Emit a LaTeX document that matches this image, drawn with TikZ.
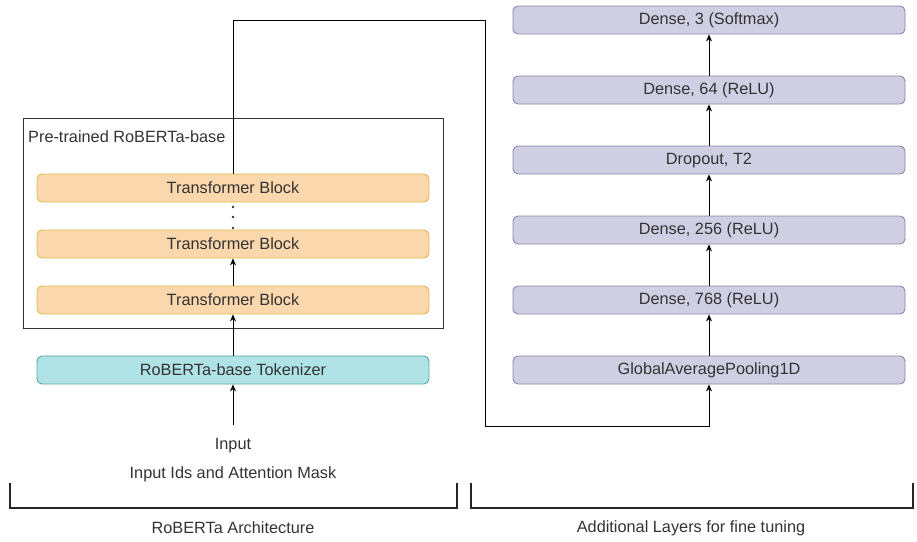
\documentclass[tikz,border=0pt]{standalone}
\usepackage{fontspec}
\setmainfont{Liberation Sans}
\usetikzlibrary{arrows.meta}
\definecolor{orfill}{HTML}{FAD7AC}
\definecolor{ordraw}{HTML}{D79B00}
\definecolor{cyfill}{HTML}{B0E3E6}
\definecolor{cydraw}{HTML}{0E8088}
\definecolor{pufill}{HTML}{D0CEE2}
\definecolor{pudraw}{HTML}{56517E}
\definecolor{txt}{HTML}{333333}
\begin{document}
\begin{tikzpicture}[x=1pt,y=-1pt,
  layer/.style={rounded corners=5pt, line width=0.9pt, minimum width=392pt, minimum height=28pt, inner sep=0pt, text=txt, font=\fontsize{16.3}{18}\selectfont},
  tb/.style={layer, fill=orfill, draw=ordraw!70},
  tok/.style={layer, fill=cyfill, draw=cydraw!70},
  dl/.style={layer, fill=pufill, draw=pudraw!70},
  conn/.style={line width=0.8pt, -{Stealth[length=7pt,width=6pt]}},
  lbl/.style={text=txt, font=\fontsize{16.3}{18}\selectfont, inner sep=0pt},
  brk/.style={line width=2.4pt, draw=black!85}]
\useasboundingbox (0,0) rectangle (917,541);
% frame
\node[draw=black!80, line width=0.8pt, minimum width=420pt, minimum height=210pt, inner sep=0pt] (frame) at (233,223) {};
\node[lbl, anchor=west] (ptlabel) at (28,137) {Pre-trained RoBERTa-base};
% left column
\node[tb] (b1) at (233,188) {Transformer Block};
\node[tb] (b2) at (233,244) {Transformer Block};
\node[tb] (b3) at (233,300) {Transformer Block};
\node[tok] (tok) at (233,370) {RoBERTa-base Tokenizer};
\node[lbl] (inp) at (233,446) {Input};
\node[lbl] (ids) at (233,474) {Input Ids and Attention Mask};
\coordinate (inpt) at (233,425);
% dots
\foreach \yy in {207,217,228} \fill[black!80] (233,\yy) circle (1.3pt);
% right column
\node[dl] (d3) at (709,20) {Dense, 3 (Softmax)};
\node[dl] (d64) at (709,90) {Dense, 64 (ReLU)};
\node[dl] (dr) at (709,160) {Dropout, T2};
\node[dl] (d256) at (709,230) {Dense, 256 (ReLU)};
\node[dl] (d768) at (709,300) {Dense, 768 (ReLU)};
\node[dl] (gap) at (709,370) {GlobalAveragePooling1D};
% connectors
\draw[conn] (inpt) -- (tok.south);
\draw[conn] (tok.north) -- (b3.south);
\draw[conn] (b3.north) -- (b2.south);
\draw[conn] (gap.north) -- (d768.south);
\draw[conn] (d768.north) -- (d256.south);
\draw[conn] (d256.north) -- (dr.south);
\draw[conn] (dr.north) -- (d64.south);
\draw[conn] (d64.north) -- (d3.south);
\draw[conn] (b1.north) |- (485,20) -- (485,426) -| (gap.south);
% brackets
\coordinate (lb1) at (10,483);
\coordinate (lb2) at (457,483);
\coordinate (rb1) at (471,483);
\coordinate (rb2) at (913,483);
\draw[brk] (lb1) -- ++(0,25) -| (lb2);
\draw[brk] (rb1) -- ++(0,25) -| (rb2);
\node[lbl] (larch) at (233,528) {RoBERTa Architecture};
\node[lbl] (rarch) at (691,528) {Additional Layers for fine tuning};
\end{tikzpicture}
\end{document}
